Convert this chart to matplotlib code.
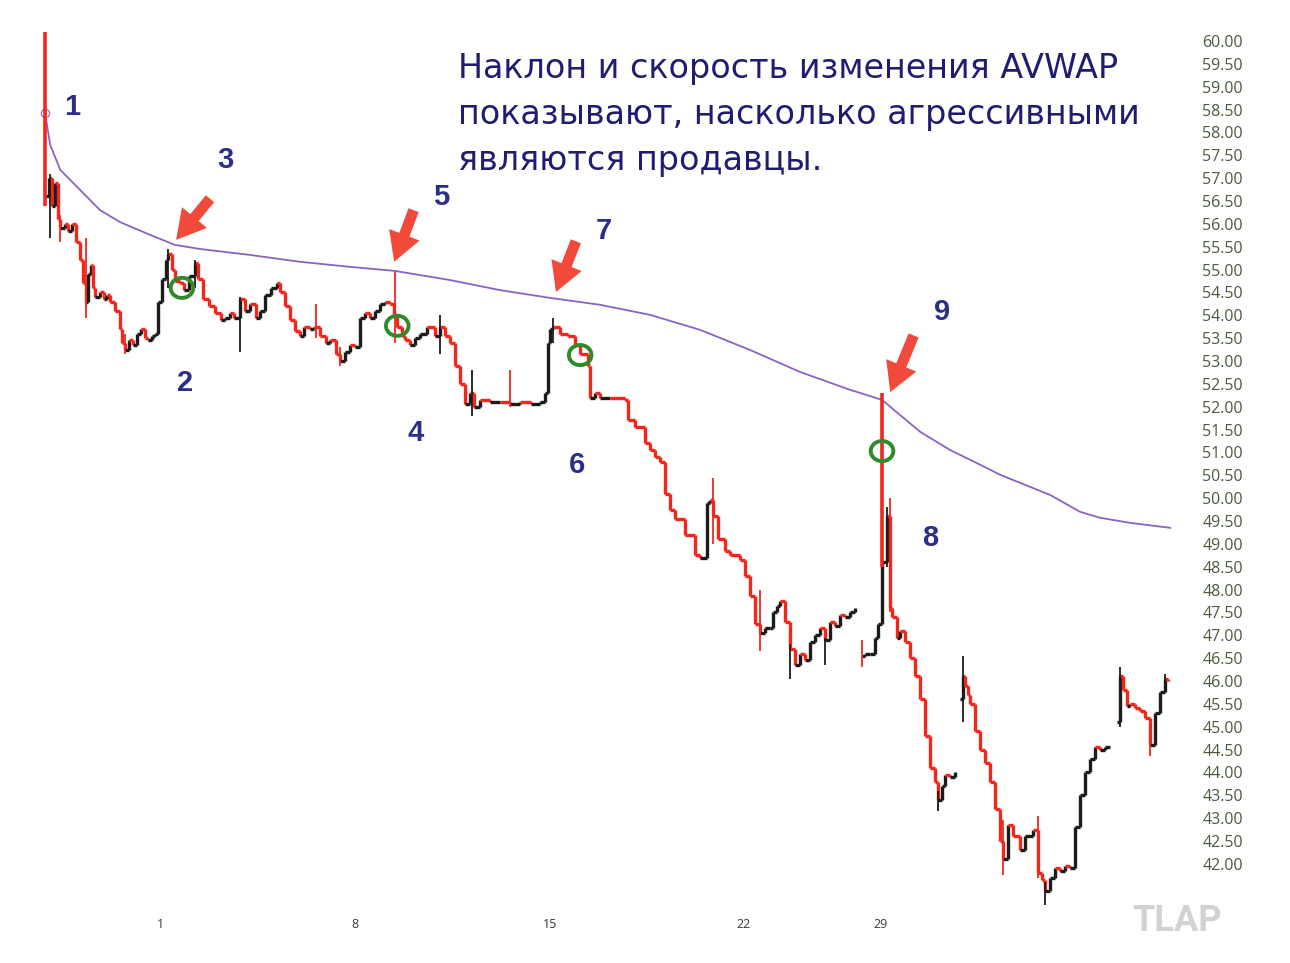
import numpy as np
import matplotlib.pyplot as plt
from matplotlib.collections import LineCollection
from matplotlib.patches import Ellipse

# price path: trading-day position / last price (nan = gap between sessions)
bar_day = [-2.95, -2.85, -2.78, -2.69, -2.62, -2.56, -2.44, -2.35, -2.25, -2.15,
           -2.05, -1.97, -1.90, -1.85, -1.78, -1.72, -1.67, -1.55, -1.45, -1.35,
           -1.28, -1.15, -1.03, -0.97, -0.90, -0.80, -0.70, -0.60, -0.50, -0.40,
           -0.30, -0.20, -0.13, -0.05, 0.05, 0.15, 0.21, 0.30, 0.38, 0.51,
           0.60, 0.75, 0.90, 0.98, 1.10, 1.25, 1.40, 1.55, 1.67, 1.79,
           1.90, 2.05, 2.18, 2.31, 2.45, 2.55, 2.69, 2.85, 3.00, 3.08,
           3.20, 3.33, 3.45, 3.59, 3.70, 3.85, 3.95, 4.10, 4.25, 4.36,
           4.50, 4.62, 4.75, 4.87, 5.00, 5.13, 5.26, 5.38, 5.51, 5.65,
           5.77, 5.90, 6.00, 6.08, 6.20, 6.28, 6.40, 6.54, 6.67, 6.85,
           7.05, 7.18, 7.31, 7.44, 7.56, 7.70, 7.82, 7.95, 8.05, 8.21,
           8.45, 8.72, 8.97, 9.23, 9.50, 9.74, 9.87, 9.95, 10.00, 10.08,
           10.26, 10.46, 10.64, 10.77, 10.97, 11.03, 11.15, 11.28, 11.54, 11.92,
           12.00, 12.18, 12.44, 12.56, 12.69, 12.82, 12.95, 13.08, 13.21, 13.46,
           13.72, 13.85, 14.03, 14.10, 14.18, 14.31, 14.49, 14.62, 14.87, 15.00,
           15.13, 15.26, 15.38, 15.52, 15.64, 15.72, 15.82, 15.90, 16.03, 16.15,
           16.28, 16.41, 16.54, 16.67, 16.80, 16.92, 17.05, 17.18, 17.31, 17.44,
           17.56, 17.69, 17.82, np.nan,
           18.00, 18.08, 18.21, 18.33, 18.41, 18.51, 18.64, 18.72, 18.77, 18.90,
           18.97, 19.10, 19.23, 19.36, 19.49, 19.62, 19.75, 19.87, 19.95, 20.05,
           20.13, 20.26, 20.38, np.nan,
           20.51, 20.59, 20.64, 20.72, 20.77, 20.90, 21.03, 21.15, 21.28, 21.41,
           21.54, 21.62, 21.74, 21.87, 22.05, 22.18, 22.38, 22.51, 22.60, 22.69,
           22.82, 22.95, 23.08, 23.21, 23.33, 23.46, 23.59, 23.72, 23.85, 23.97,
           24.10, 24.23, 24.36, np.nan,
           24.54, 24.62, 24.69, 24.80, 24.87, 25.00, 25.13, 25.26, 25.38, 25.51,
           25.64, 25.77, 25.85]
bar_close = [56.6, 57.0, 56.4, 56.9, 56.1, 55.9, 56.0, 55.85, 56.0, 55.6,
             55.2, 54.7, 54.3, 54.9, 55.1, 54.6, 54.4, 54.5, 54.35, 54.45,
             54.3, 54.1, 53.7, 53.4, 53.25, 53.45, 53.35, 53.6, 53.7, 53.5,
             53.45, 53.55, 53.6, 54.3, 54.8, 55.2, 55.35, 55.0, 54.75, 54.7,
             54.55, 54.85, 55.15, 54.8, 54.35, 54.2, 54.05, 53.9, 53.95, 54.05,
             53.95, 54.35, 54.1, 54.25, 53.95, 54.1, 54.45, 54.6, 54.7, 54.5,
             54.2, 53.9, 53.65, 53.55, 53.75, 53.7, 53.75, 53.55, 53.4, 53.45,
             53.15, 53.0, 53.2, 53.35, 53.3, 53.95, 54.05, 53.95, 54.1, 54.25,
             54.3, 54.25, 54.0, 53.75, 53.55, 53.45, 53.35, 53.5, 53.6, 53.75,
             53.55, 53.75, 53.55, 53.4, 52.9, 52.5, 52.05, 52.3, 52.0, 52.15,
             52.1, 52.1, 52.05, 52.1, 52.05, 52.1, 52.3, 53.4, 53.7, 53.75,
             53.6, 53.55, 53.35, 53.15, 52.9, 52.2, 52.3, 52.2, 52.2, 52.15,
             51.7, 51.55, 51.2, 51.05, 50.9, 50.8, 50.1, 49.75, 49.55, 49.2,
             48.75, 48.7, 49.9, 49.95, 49.6, 49.1, 48.85, 48.75, 48.65, 48.3,
             47.85, 47.25, 47.05, 47.15, 47.15, 47.5, 47.65, 47.75, 47.3, 46.7,
             46.35, 46.6, 46.45, 46.85, 47.0, 47.15, 46.9, 47.3, 47.2, 47.45,
             47.4, 47.5, 47.6, np.nan,
             46.55, 46.6, 46.6, 46.95, 47.25, 48.6, 49.6, 47.6, 47.4, 46.95,
             47.1, 46.85, 46.5, 46.1, 45.6, 44.8, 44.1, 43.8, 43.4, 43.7,
             43.95, 43.9, 44.0, np.nan,
             45.6, 46.1, 45.9, 45.7, 45.5, 44.9, 44.5, 44.2, 43.8, 43.2,
             42.5, 42.1, 42.85, 42.6, 42.3, 42.6, 42.75, 41.8, 41.65, 41.4,
             41.7, 41.9, 41.85, 41.95, 41.9, 42.8, 43.5, 44.0, 44.3, 44.55,
             44.5, 44.55, 44.55, np.nan,
             45.1, 46.1, 45.8, 45.45, 45.5, 45.4, 45.35, 45.2, 44.6, 45.3,
             45.75, 46.05, 46.0]

# high/low spikes
wick_day = [-2.95, -2.82, -2.56, -1.90, -0.90, 0.21, 0.90, 2.05, 4.00, 4.62,
            6.03, 7.18, 8.00, 8.97, 10.08, 14.18, 15.38, 16.15, 17.05, 18.00,
            18.51, 18.64, 18.72, 19.95, 20.59, 21.62, 22.51, 22.69, 24.62, 25.38,
            25.77]
wick_low = [56.4, 55.7, 55.6, 53.95, 53.15, 54.6, 54.6, 53.2, 53.5, 52.9,
            53.4, 53.15, 51.8, 52.0, 53.4, 49.0, 46.65, 46.05, 46.35, 46.3,
            48.5, 48.5, 47.5, 43.15, 45.1, 41.75, 41.7, 41.1, 45.0, 44.35,
            45.9]
wick_high = [60.2, 57.1, 56.2, 55.7, 53.6, 55.45, 55.2, 54.4, 54.25, 53.3,
             55.0, 54.0, 52.8, 52.8, 53.95, 50.45, 47.99, 46.8, 46.95, 46.9,
             52.3, 49.8, 50.0, 43.6, 46.55, 42.95, 43.05, 41.6, 46.3, 44.9,
             46.15]

# anchored VWAP
vwap_day = [-2.95, -2.82, -2.56, -2.05, -1.54, -1.03, -0.26, 0.38, 1.03, 2.31,
            3.59, 4.87, 6.03, 7.44, 8.72, 10.0, 11.28, 12.56, 13.85, 15.13,
            16.41, 17.69, 18.51, 18.97, 19.49, 20.26, 21.03, 21.54, 22.82, 23.59,
            24.10, 24.87, 25.90]
vwap = [58.43, 57.73, 57.18, 56.74, 56.30, 56.04, 55.76, 55.54, 55.45, 55.32,
        55.17, 55.06, 54.97, 54.77, 54.55, 54.38, 54.23, 54.01, 53.68, 53.24,
        52.76, 52.37, 52.15, 51.82, 51.45, 51.05, 50.73, 50.51, 50.07, 49.70,
        49.57, 49.46, 49.35]

tick_pos = [0, 5, 10, 14.95, 18.46]
tick_lab = ['1', '8', '15', '22', '29']

labels = ['1', '2', '3', '4', '5', '6', '7', '8', '9']
label_day = [-2.26, 0.64, 1.67, 6.54, 7.21, 10.69, 11.38, 19.74, 20.05]
label_price = [58.56, 52.52, 57.40, 51.43, 56.59, 50.73, 55.84, 49.13, 54.07]

arrow_tail = [(1.28, 56.55), (6.50, 56.30), (10.66, 55.62), (19.32, 53.56)]
arrow_head = [(0.41, 55.65), (6.00, 55.17), (10.15, 54.51), (18.72, 52.32)]

circle_day = [0.56, 6.08, 10.77, 18.51]
circle_price = [54.60, 53.77, 53.13, 51.03]

RED = '#f2261b'
BLACK = '#1b1b1b'
NAVY = '#2c2f88'

fig = plt.figure(figsize=(12.9, 9.63), dpi=100)
ax = fig.add_axes([40/1290, 53/963, 1140/1290, 890/963])

d = np.array(bar_day, dtype=float)
c = np.array(bar_close, dtype=float)
segs, cols = [], []
for i in range(len(d) - 1):
    if np.isnan(d[i]) or np.isnan(d[i+1]):
        continue
    col = RED if c[i+1] < c[i] else BLACK
    segs.append([(d[i], c[i]), (d[i+1], c[i])])
    segs.append([(d[i+1], c[i]), (d[i+1], c[i+1])])
    cols += [col, col]
ax.add_collection(LineCollection(segs, colors=cols, linewidths=2.4, capstyle='butt'))

for x, lo, hi in zip(wick_day, wick_low, wick_high):
    j = int(np.nanargmin(np.abs(d - x)))
    # close nearer the low -> sellers' bar
    col = RED if (c[j] - lo) < (hi - c[j]) else BLACK
    big = (hi - lo) > 3
    ax.vlines(x, lo, hi, color=col, lw=2.6 if big else 1.3, zorder=3 if big else 2)

ax.plot(vwap_day, vwap, color='#8b63c4', lw=1.3)
ax.plot(vwap_day[0], vwap[0], 'o', mfc='none', mec='#b070c8', ms=6, mew=1)

for x, y in zip(circle_day, circle_price):
    ax.add_patch(Ellipse((x, y), 0.58, 0.44, fill=False, ec='#2f8a2a', lw=2.8, zorder=4))

for t, h in zip(arrow_tail, arrow_head):
    ax.annotate('', xy=h, xytext=t,
                arrowprops=dict(arrowstyle='simple,head_length=0.8,head_width=0.9,tail_width=0.3',
                                color='#f24a3a', lw=0, shrinkA=0, shrinkB=0, mutation_scale=26))

for s, x, y in zip(labels, label_day, label_price):
    ax.text(x, y, s, fontsize=21, fontweight='bold', color=NAVY,
            ha='center', va='center', family='Liberation Sans')

ax.set_xlim(-3.08, 26.15)
ax.set_ylim(40.99, 60.46)
ax.set_yticks(np.arange(42, 60.01, 0.5))
ax.set_yticklabels([f'{v:.2f}' for v in np.arange(42, 60.01, 0.5)],
                   fontsize=11.5, color='#4b5a3c', family='Open Sans')
ax.yaxis.tick_right()
ax.tick_params(axis='y', length=0, pad=16)
ax.set_xticks(tick_pos)
ax.set_xticklabels(tick_lab, fontsize=9, color='#3a3a3a', family='Open Sans')
ax.tick_params(axis='x', length=0, pad=6)
for sp in ax.spines.values():
    sp.set_visible(False)

fig.text(458/1290, 1 - 52/963,
         'Наклон и скорость изменения AVWAP\nпоказывают, насколько агрессивными\nявляются продавцы.',
         fontsize=24, color='#1f1c72', family='DejaVu Sans', va='top', ha='left',
         linespacing=1.5)
fig.text(1177/1290, 1 - 921/963, 'TLAP', fontsize=26, fontweight='bold',
         color='#d2d2d2', ha='center', va='center', family='Roboto')

fig.savefig('out.png', dpi=100)
